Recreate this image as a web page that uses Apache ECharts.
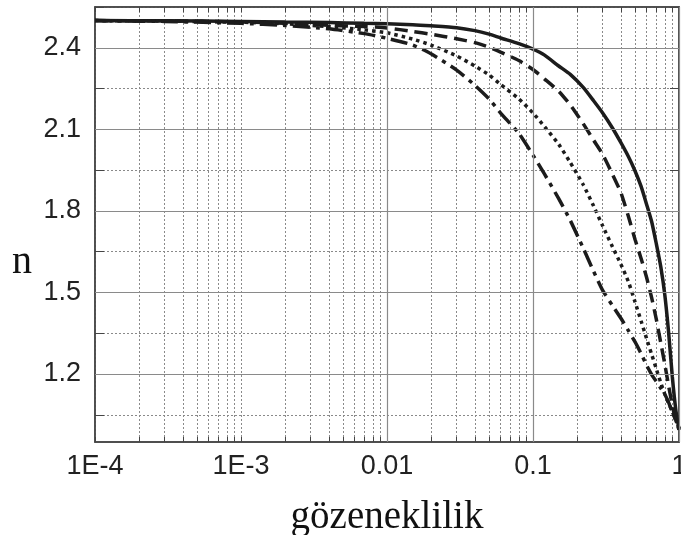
<!DOCTYPE html>
<html>
<head>
<meta charset="utf-8">
<script src="https://cdn.jsdelivr.net/npm/echarts@6/dist/echarts.min.js"></script>
<style>
  html, body { margin: 0; padding: 0; background: #fff; }
  #chart { width: 681px; height: 535px; }
</style>
</head>
<body>
<div id="chart"></div>
<script>
  // gözeneklilik (porosity) sample points, shared by all four curves
  var porosity = [1e-4, 3e-4, 1e-3, 2e-3, 4e-3, 7e-3, 0.01, 0.015, 0.02, 0.03,
                  0.04, 0.05, 0.06, 0.08, 0.1, 0.12, 0.15, 0.18, 0.22, 0.26,
                  0.3, 0.35, 0.4, 0.45, 0.5, 0.55, 0.6, 0.65, 0.7, 0.75,
                  0.8, 0.85, 0.9, 0.95, 1.0];

  // n values
  var nSolid   = [2.500, 2.499, 2.497, 2.495, 2.493, 2.490, 2.488, 2.485, 2.481, 2.474,
                  2.463, 2.450, 2.436, 2.415, 2.395, 2.373, 2.333, 2.302, 2.255, 2.205,
                  2.160, 2.105, 2.051, 2.000, 1.947, 1.890, 1.824, 1.760, 1.678, 1.595,
                  1.490, 1.350, 1.190, 1.070, 0.995];
  var nDashed  = [2.500, 2.499, 2.495, 2.490, 2.483, 2.478, 2.473, 2.460, 2.450, 2.433,
                  2.419, 2.402, 2.384, 2.353, 2.320, 2.285, 2.240, 2.190, 2.122, 2.060,
                  2.008, 1.935, 1.867, 1.780, 1.695, 1.625, 1.555, 1.480, 1.400, 1.315,
                  1.235, 1.155, 1.085, 1.030, 0.995];
  var nDotted  = [2.500, 2.498, 2.494, 2.488, 2.478, 2.466, 2.455, 2.432, 2.410, 2.370,
                  2.333, 2.300, 2.265, 2.212, 2.160, 2.110, 2.045, 1.978, 1.898, 1.818,
                  1.745, 1.668, 1.604, 1.540, 1.465, 1.395, 1.330, 1.272, 1.218, 1.168,
                  1.125, 1.092, 1.062, 1.030, 1.000];
  var nDashDot = [2.500, 2.497, 2.490, 2.482, 2.470, 2.452, 2.435, 2.410, 2.378, 2.318,
                  2.262, 2.212, 2.160, 2.085, 2.005, 1.935, 1.845, 1.765, 1.665, 1.578,
                  1.508, 1.452, 1.405, 1.360, 1.318, 1.275, 1.232, 1.198, 1.172, 1.148,
                  1.125, 1.095, 1.060, 1.030, 1.000];

  // axis ticks
  var xDecades = [1e-4, 1e-3, 0.01, 0.1, 1];
  var xMinors = [];
  for (var d = -4; d < 0; d++) {
    for (var m = 2; m <= 9; m++) {
      xMinors.push(+(m * Math.pow(10, d)).toPrecision(2));
    }
  }
  var yLabels = [1.2, 1.5, 1.8, 2.1, 2.4];
  var yTicks = [1.05, 1.2, 1.35, 1.5, 1.65, 1.8, 1.95, 2.1, 2.25, 2.4, 2.55];

  function pairs(ys) {
    var out = [];
    for (var i = 0; i < porosity.length; i++) {
      out.push([porosity[i], ys[i]]);
    }
    return out;
  }

  var lineColor = '#1c1c1c';
  var gridGray = '#8a8a8a';

  function curve(name, ys, type) {
    return {
      name: name,
      type: 'line',
      data: pairs(ys),
      symbol: 'none',
      smooth: 0.2,
      z: 3,
      lineStyle: { color: lineColor, width: 3.5, type: type, cap: 'butt' }
    };
  }

  var majorX = xDecades.map(function (v) { return { xAxis: v }; });
  var majorY = yLabels.map(function (v) { return { yAxis: v }; });

  var chart = echarts.init(document.getElementById('chart'));

  chart.setOption({
    animation: false,
    backgroundColor: '#fff',
    grid: {
      left: 95, right: 2, top: 7, bottom: 93,
      outerBoundsMode: 'none',
      containLabel: false,
      show: true,
      borderColor: '#444',
      borderWidth: 1.5
    },
    xAxis: [
      {
        type: 'log',
        logBase: 10,
        min: 1e-4,
        max: 1,
        name: 'gözeneklilik',
        nameLocation: 'middle',
        nameGap: 56,
        nameTextStyle: { fontFamily: 'Liberation Serif', fontSize: 39, color: '#111' },
        axisLine: { lineStyle: { color: '#444', width: 1.5 } },
        axisTick: { inside: true, length: 5, customValues: xDecades.concat(xMinors),
                    lineStyle: { color: '#444' } },
        axisLabel: {
          customValues: xDecades,
          margin: 11,
          fontFamily: 'Liberation Sans',
          fontSize: 27,
          color: '#222',
          formatter: function (v) {
            if (v < 0.005) return '1E' + Math.round(Math.log10(v));
            return String(Number(v.toPrecision(1)));
          }
        },
        splitLine: { show: true, lineStyle: { color: gridGray, type: [2, 2], width: 1 } }
      },
      {
        type: 'log',
        logBase: 10,
        min: 1e-4,
        max: 1,
        position: 'top',
        axisLine: { lineStyle: { color: '#444', width: 1.5 } },
        axisTick: { inside: true, length: 5, customValues: xDecades.concat(xMinors),
                    lineStyle: { color: '#444' } },
        axisLabel: { show: false },
        splitLine: { show: false }
      }
    ],
    yAxis: [
      {
        type: 'value',
        min: 0.95,
        max: 2.55,
        axisLine: { show: true, lineStyle: { color: '#444', width: 1.5 } },
        axisTick: { show: true, inside: true, length: 9, customValues: yTicks,
                    lineStyle: { color: '#444' } },
        axisLabel: {
          customValues: yLabels,
          margin: 14,
          fontFamily: 'Liberation Sans',
          fontSize: 27,
          color: '#222',
          formatter: function (v) { return v.toFixed(1); }
        },
        splitLine: { show: true, lineStyle: { color: gridGray, type: [2, 2], width: 1 } }
      },
      {
        type: 'value',
        min: 0.95,
        max: 2.55,
        position: 'right',
        axisLine: { show: true, lineStyle: { color: '#444', width: 1.5 } },
        axisTick: { show: true, inside: true, length: 9, customValues: yTicks,
                    lineStyle: { color: '#444' } },
        axisLabel: { show: false },
        splitLine: { show: false }
      }
    ],
    graphic: [
      {
        type: 'text',
        left: 12,
        top: 242,
        style: { text: 'n', fontFamily: 'Liberation Serif', fontSize: 40, fill: '#111' }
      }
    ],
    series: [
      {
        // solid grid lines at decades and labelled n values
        name: 'grid',
        type: 'line',
        data: [],
        z: 1,
        silent: true,
        markLine: {
          silent: true,
          symbol: 'none',
          label: { show: false },
          lineStyle: { color: gridGray, type: 'solid', width: 1.2 },
          data: majorX.concat(majorY)
        }
      },
      curve('a', nSolid, 'solid'),
      curve('b', nDashed, [13, 7]),
      curve('c', nDotted, [3.5, 4]),
      curve('d', nDashDot, [17, 6, 4, 6])
    ]
  });
</script>
</body>
</html>
